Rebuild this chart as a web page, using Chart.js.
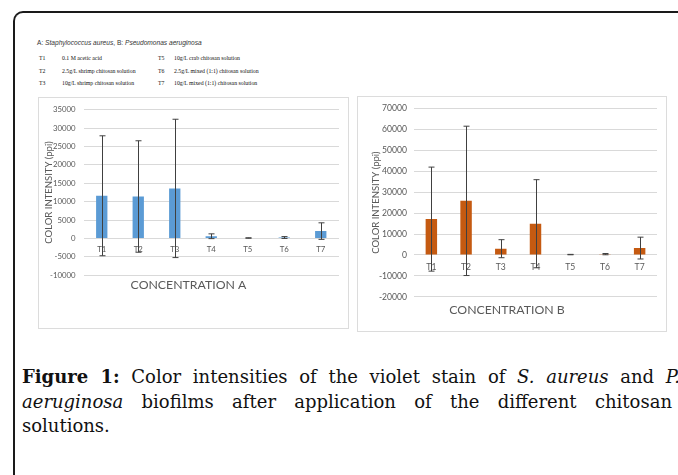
<!DOCTYPE html>
<html>
<head>
<meta charset="utf-8">
<script src="https://cdn.jsdelivr.net/npm/chart.js@4.4.1/dist/chart.umd.min.js"></script>
<style>
  html, body { margin: 0; padding: 0; background: #fff; }
  body { width: 678px; height: 475px; position: relative; overflow: hidden; }
  #frame { position: absolute; left: 13px; top: 11px; width: 720px; height: 520px;
           border-left: 2px solid #1a1a1a; border-top: 2px solid #1a1a1a; border-top-left-radius: 10px; }
  .panel { position: absolute; border: 1px solid #dcdcdc; box-sizing: border-box; }
  #panelA { left: 38px; top: 97px; width: 311px; height: 232px; }
  #panelB { left: 357px; top: 96px; width: 310px; height: 236px; }
  #wrapA { position: absolute; left: 38px; top: 97px; width: 310px; height: 198px; }
  #wrapB { position: absolute; left: 357px; top: 96px; width: 309px; height: 224px; }
  #species { position: absolute; left: 37px; top: 39px; font: 6.6px "Liberation Sans", sans-serif; color: #333; white-space: nowrap; }
  .row { position: absolute; font: 5.8px "Liberation Serif", serif; color: #111; white-space: nowrap; }
  .caption { position: absolute; left: 22px; font: 18px "DejaVu Serif", serif; color: #111; white-space: nowrap; }
  .just { text-align: justify; text-align-last: justify; }
</style>
</head>
<body>
<div id="frame"></div>
<div id="species">A: <i>Staphylococcus aureus</i>, B: <i>Pseudomonas aeruginosa</i></div>
<div class="row" style="left:39px;top:55px">T1</div><div class="row" style="left:62px;top:55px">0.1 M acetic acid</div>
<div class="row" style="left:158px;top:55px">T5</div><div class="row" style="left:174px;top:55px">10g/L crab chitosan solution</div>
<div class="row" style="left:39px;top:68px">T2</div><div class="row" style="left:62px;top:68px">2.5g/L shrimp chitosan solution</div>
<div class="row" style="left:158px;top:68px">T6</div><div class="row" style="left:174px;top:68px">2.5g/L mixed (1:1) chitosan solution</div>
<div class="row" style="left:39px;top:80px">T3</div><div class="row" style="left:62px;top:80px">10g/L shrimp chitosan solution</div>
<div class="row" style="left:158px;top:80px">T7</div><div class="row" style="left:174px;top:80px">10g/L mixed (1:1) chitosan solution</div>

<div class="panel" id="panelA"></div>
<div class="panel" id="panelB"></div>
<div id="wrapA"><canvas id="chartA"></canvas></div>
<div id="wrapB"><canvas id="chartB"></canvas></div>

<div class="caption just" style="top:366px;width:658px"><b>Figure 1:</b> Color intensities of the violet stain of <i>S. aureus</i> and <i>P.</i></div>
<div class="caption just" style="top:391px;width:650px"><i>aeruginosa</i> biofilms after application of the different chitosan</div>
<div class="caption" style="top:415px">solutions.</div>

<script>
// treatments
var labels = ['T1', 'T2', 'T3', 'T4', 'T5', 'T6', 'T7'];

// A: S. aureus
var meanA = [11600, 11400, 13600, 600, 120, 250, 2000];
var sdA   = [16300, 15150, 18800, 650, 60, 250, 2250];

// B: P. aeruginosa
var meanB = [17100, 25800, 3000, 14900, 200, 400, 3300];
var sdB   = [24800, 35600, 4300, 21000, 100, 300, 5200];

var tickGray = '#595959';
var gridGray = '#d9d9d9';

// draws +/- sd whiskers with caps over each bar
var errorBars = {
  id: 'errorBars',
  afterDatasetsDraw: function(chart) {
    var sd = chart.options.plugins.errorBars.sd;
    var vals = chart.data.datasets[0].data;
    var meta = chart.getDatasetMeta(0);
    var y = chart.scales.y;
    var ctx = chart.ctx;
    ctx.save();
    ctx.strokeStyle = '#404040';
    ctx.lineWidth = 1;
    meta.data.forEach(function(bar, i) {
      var x = Math.round(bar.x) + 0.5;
      var top = y.getPixelForValue(vals[i] + sd[i]);
      var bot = y.getPixelForValue(vals[i] - sd[i]);
      ctx.beginPath();
      ctx.moveTo(x, top); ctx.lineTo(x, bot);
      ctx.moveTo(x - 3, top); ctx.lineTo(x + 3, top);
      ctx.moveTo(x - 3, bot); ctx.lineTo(x + 3, bot);
      ctx.stroke();
    });
    ctx.restore();
  }
};

function makeChart(id, vals, sd, color, o) {
  return new Chart(document.getElementById(id), {
    type: 'bar',
    data: {
      labels: labels,
      datasets: [{ data: vals, backgroundColor: color, barPercentage: o.barPct, categoryPercentage: 1 }]
    },
    options: {
      responsive: true,
      maintainAspectRatio: false,
      animation: false,
      layout: { padding: { top: o.padTop, right: o.padRight, left: 0, bottom: 0 } },
      plugins: {
        legend: { display: false },
        tooltip: { enabled: false },
        errorBars: { sd: sd },
        title: {
          display: true, position: 'bottom', text: o.xTitle, color: tickGray,
          font: { family: 'Lato', size: 12.3, weight: 'normal' }, padding: { top: o.titlePadTop, bottom: 3 }
        }
      },
      scales: {
        x: {
          position: { y: 0 },
          grid: { display: false, drawTicks: false },
          border: { display: false },
          ticks: { color: tickGray, font: { family: 'Lato', size: o.tickSize }, padding: o.xTickPad, maxRotation: 0 }
        },
        y: {
          min: o.min, max: o.max,
          afterFit: function(s) { s.width = o.yWidth; },
          grid: { color: gridGray, drawTicks: false },
          border: { display: false },
          ticks: {
            stepSize: o.step, color: tickGray, font: { family: 'Lato', size: o.tickSize }, padding: o.yTickPad,
            callback: function(v) { return String(v); }
          },
          title: { display: true, text: 'COLOR INTENSITY (ppi)', color: tickGray,
                   font: { family: 'Lato', size: o.yTitleSize }, padding: { top: o.yTitlePad, bottom: 0 } }
        }
      }
    },
    plugins: [errorBars]
  });
}

makeChart('chartA', meanA, sdA, '#5B9BD5', {
  barPct: 0.31, padTop: 7, padRight: 9, titlePadTop: 2, xTitle: 'CONCENTRATION A',
  tickSize: 7.8, xTickPad: 6.5, yTickPad: 8, min: -10000, max: 35000, step: 5000,
  yWidth: 45.5, yTitleSize: 9.5, yTitlePad: 5
});

makeChart('chartB', meanB, sdB, '#C55A11', {
  barPct: 0.33, padTop: 12, padRight: 9, titlePadTop: 5.3, xTitle: 'CONCENTRATION B',
  tickSize: 8.6, xTickPad: 7, yTickPad: 7, min: -20000, max: 70000, step: 10000,
  yWidth: 57, yTitleSize: 9.5, yTitlePad: 13
});
</script>
</body>
</html>
